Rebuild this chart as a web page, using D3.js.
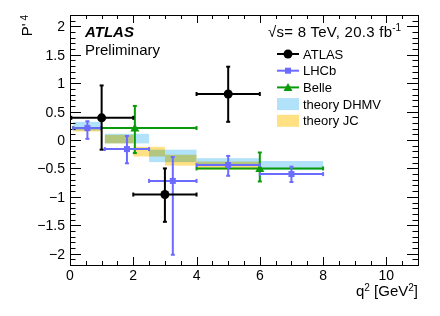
<!DOCTYPE html>
<html>
<head>
<meta charset="utf-8">
<script src="https://cdn.jsdelivr.net/npm/d3@7"></script>
<style>
  body { margin: 0; background: #fff; }
  text { font-family: "Liberation Sans", Arial, Helvetica, sans-serif; }
</style>
</head>
<body>
<svg id="chart"></svg>
<script>
// ATLAS measurement
const atlasX = [1, 3, 5];
const atlasXLo = [0.04, 2, 4];
const atlasXHi = [2, 4, 6];
const atlasY = [0.39, -0.96, 0.81];
const atlasErrUp = [0.57, 0.46, 0.48];
const atlasErrDn = [0.56, 0.48, 0.49];

// LHCb
const lhcbX = [0.55, 1.8, 3.25, 5, 7];
const lhcbXLo = [0.1, 1.1, 2.5, 4, 6];
const lhcbXHi = [0.98, 2.5, 4, 6, 8];
const lhcbY = [0.21, -0.16, -0.72, -0.44, -0.60];
const lhcbErrUp = [0.12, 0.23, 0.42, 0.16, 0.13];
const lhcbErrDn = [0.19, 0.25, 1.30, 0.19, 0.14];

// Belle
const belleX = [2.05, 6];
const belleXLo = [0.1, 4];
const belleXHi = [4, 8];
const belleY = [0.21, -0.50];
const belleErrUp = [0.39, 0.28];
const belleErrDn = [0.44, 0.23];

// theory DHMV bands
const dhmvLo = [0.1, 1.1, 2.5, 4, 6];
const dhmvHi = [0.98, 2.5, 4, 6, 8];
const dhmvMin = [0.17, -0.06, -0.39, -0.46, -0.53];
const dhmvMax = [0.32, 0.11, -0.17, -0.32, -0.37];

// theory JC bands
const jcLo = [0.1, 1.1, 2, 3, 4];
const jcHi = [0.98, 2, 3, 4, 6];
const jcMin = [0.15, -0.06, -0.29, -0.45, -0.52];
const jcMax = [0.22, 0.09, -0.12, -0.26, -0.38];

const xTicks = [0, 2, 4, 6, 8, 10];
const yTicks = [-2, -1.5, -1, -0.5, 0, 0.5, 1, 1.5, 2];

const W = 440, H = 316;
const margin = { top: 15, right: 22, bottom: 51, left: 70 };

const svg = d3.select("#chart").attr("width", W).attr("height", H);

const x = d3.scaleLinear().domain([0, 11]).range([margin.left, W - margin.right]);
const y = d3.scaleLinear().domain([-2.2, 2.2]).range([H - margin.bottom, margin.top]);

const x0 = x.range()[0], x1 = x.range()[1];
const y0 = y.range()[0], y1 = y.range()[1];

const blue = "#6b6bff", green = "#0a9a0a";
const dhmvColor = "#b2e2fa", jcColor = "#ffe083";

// theory bands
const bands = svg.append("g");
bands.selectAll(".dhmv")
    .data(dhmvLo)
    .join("rect")
    .attr("class", "dhmv")
    .attr("x", (d, i) => x(dhmvLo[i]))
    .attr("width", (d, i) => x(dhmvHi[i]) - x(dhmvLo[i]))
    .attr("y", (d, i) => y(dhmvMax[i]))
    .attr("height", (d, i) => y(dhmvMin[i]) - y(dhmvMax[i]))
    .attr("fill", dhmvColor);

bands.selectAll(".jc")
    .data(jcLo)
    .join("rect")
    .attr("class", "jc")
    .attr("x", (d, i) => x(jcLo[i]))
    .attr("width", (d, i) => x(jcHi[i]) - x(jcLo[i]))
    .attr("y", (d, i) => y(jcMax[i]))
    .attr("height", (d, i) => y(jcMin[i]) - y(jcMax[i]))
    .attr("fill", jcColor)
    .style("mix-blend-mode", "multiply");

// axes frame with ticks (ROOT style: ticks inside, all four sides)
const axes = svg.append("g").attr("stroke", "#000").attr("stroke-width", 1);

const xMinor = d3.range(0, 11.01, 0.5);
const yMinor = d3.range(-2.2, 2.21, 0.1).map(v => Math.round(v * 10) / 10);

xMinor.forEach(v => {
    const len = Math.abs(v % 2) < 1e-6 ? 8 : 4;
    const px = Math.round(x(v)) + 0.5;
    axes.append("line").attr("x1", px).attr("x2", px).attr("y1", y0).attr("y2", y0 - len);
    axes.append("line").attr("x1", px).attr("x2", px).attr("y1", y1).attr("y2", y1 + len);
});
yMinor.forEach(v => {
    const len = Math.abs((v * 10) % 5) < 1e-6 ? 11 : 5.5;
    const py = Math.round(y(v)) + 0.5;
    axes.append("line").attr("x1", x0).attr("x2", x0 + len).attr("y1", py).attr("y2", py);
    axes.append("line").attr("x1", x1).attr("x2", x1 - len).attr("y1", py).attr("y2", py);
});

axes.append("rect")
    .attr("x", x0 + 0.5).attr("y", y1 + 0.5)
    .attr("width", x1 - x0).attr("height", y0 - y1)
    .attr("fill", "none");

// tick labels
svg.append("g").selectAll("text")
    .data(xTicks)
    .join("text")
    .attr("x", d => x(d))
    .attr("y", y0 + 15)
    .attr("text-anchor", "middle")
    .attr("font-size", 14)
    .text(d => d);

svg.append("g").selectAll("text")
    .data(yTicks)
    .join("text")
    .attr("x", x0 - 5)
    .attr("y", d => y(d) + 5)
    .attr("text-anchor", "end")
    .attr("font-size", 14)
    .text(d => d3.format("")(d).replace("-", "\u2212"));

// axis titles
const xt = svg.append("text")
    .attr("x", x1)
    .attr("y", 296)
    .attr("text-anchor", "end")
    .attr("font-size", 15);
xt.append("tspan").text("q");
xt.append("tspan").attr("dy", -5.5).attr("font-size", 10).text("2");
xt.append("tspan").attr("dy", 5.5).text(" [GeV");
xt.append("tspan").attr("dy", -5.5).attr("font-size", 10).text("2");
xt.append("tspan").attr("dy", 5.5).text("]");

const yt = svg.append("text")
    .attr("transform", `translate(32,${y1}) rotate(-90)`)
    .attr("text-anchor", "end")
    .attr("font-size", 15);
yt.append("tspan").text("P'");
yt.append("tspan").attr("dy", -4).attr("font-size", 10).text(" 4");

// data series drawing
function drawSeries(xs, xlo, xhi, ys, eup, edn, color, marker) {
    const g = svg.append("g").attr("stroke", color).attr("stroke-width", 2);
    xs.forEach((xv, i) => {
        const cx = x(xv), cy = y(ys[i]);
        g.append("line").attr("x1", x(xlo[i])).attr("x2", x(xhi[i])).attr("y1", cy).attr("y2", cy);
        g.append("line").attr("x1", cx).attr("x2", cx).attr("y1", y(ys[i] + eup[i])).attr("y2", y(ys[i] - edn[i]));
        // small end caps
        [x(xlo[i]), x(xhi[i])].forEach(ex => {
            g.append("line").attr("x1", ex).attr("x2", ex).attr("y1", cy - 2).attr("y2", cy + 2);
        });
        [y(ys[i] + eup[i]), y(ys[i] - edn[i])].forEach(ey => {
            g.append("line").attr("x1", cx - 2).attr("x2", cx + 2).attr("y1", ey).attr("y2", ey);
        });
        drawMarker(g, marker, cx, cy, color);
    });
}

function drawMarker(g, marker, cx, cy, color) {
    if (marker === "circle") {
        g.append("circle").attr("cx", cx).attr("cy", cy).attr("r", 4.5).attr("fill", color).attr("stroke", "none");
    } else if (marker === "square") {
        g.append("rect").attr("x", cx - 3).attr("y", cy - 3).attr("width", 6).attr("height", 6).attr("fill", color).attr("stroke", "none");
    } else {
        g.append("path").attr("d", `M${cx},${cy - 4.5}L${cx + 4.5},${cy + 3.5}L${cx - 4.5},${cy + 3.5}Z`)
            .attr("fill", color).attr("stroke", "none");
    }
}

drawSeries(belleX, belleXLo, belleXHi, belleY, belleErrUp, belleErrDn, green, "triangle");
drawSeries(lhcbX, lhcbXLo, lhcbXHi, lhcbY, lhcbErrUp, lhcbErrDn, blue, "square");
drawSeries(atlasX, atlasXLo, atlasXHi, atlasY, atlasErrUp, atlasErrDn, "#000", "circle");

// ATLAS label
svg.append("text").attr("x", 85).attr("y", 37)
    .attr("font-size", 15).attr("font-weight", "bold").attr("font-style", "italic")
    .text("ATLAS");
svg.append("text").attr("x", 85).attr("y", 55)
    .attr("font-size", 15)
    .text("Preliminary");

// energy / luminosity label
const lumi = svg.append("text").attr("x", 268).attr("y", 37)
    .attr("font-size", 15);
lumi.append("tspan").attr("textLength", 124).attr("lengthAdjust", "spacing")
    .text("\u221As= 8 TeV, 20.3 fb");
lumi.append("tspan").attr("dy", -6).attr("font-size", 10).text("-1");

// legend
const legend = [
    { label: "ATLAS", color: "#000", marker: "circle", box: false },
    { label: "LHCb", color: blue, marker: "square", box: false },
    { label: "Belle", color: green, marker: "triangle", box: false },
    { label: "theory DHMV", color: dhmvColor, box: true },
    { label: "theory JC", color: jcColor, box: true }
];
const lg = svg.append("g");
legend.forEach((d, i) => {
    const ly = 54 + i * 16.7;
    if (d.box) {
        lg.append("rect").attr("x", 277).attr("y", ly - 6).attr("width", 22).attr("height", 12).attr("fill", d.color);
    } else {
        const gg = lg.append("g").attr("stroke", d.color).attr("stroke-width", 2);
        gg.append("line").attr("x1", 277).attr("x2", 299).attr("y1", ly).attr("y2", ly);
        drawMarker(gg, d.marker, 288, ly, d.color);
    }
    lg.append("text").attr("x", 303).attr("y", ly + 4.5).attr("font-size", 13).text(d.label);
});
</script>
</body>
</html>
